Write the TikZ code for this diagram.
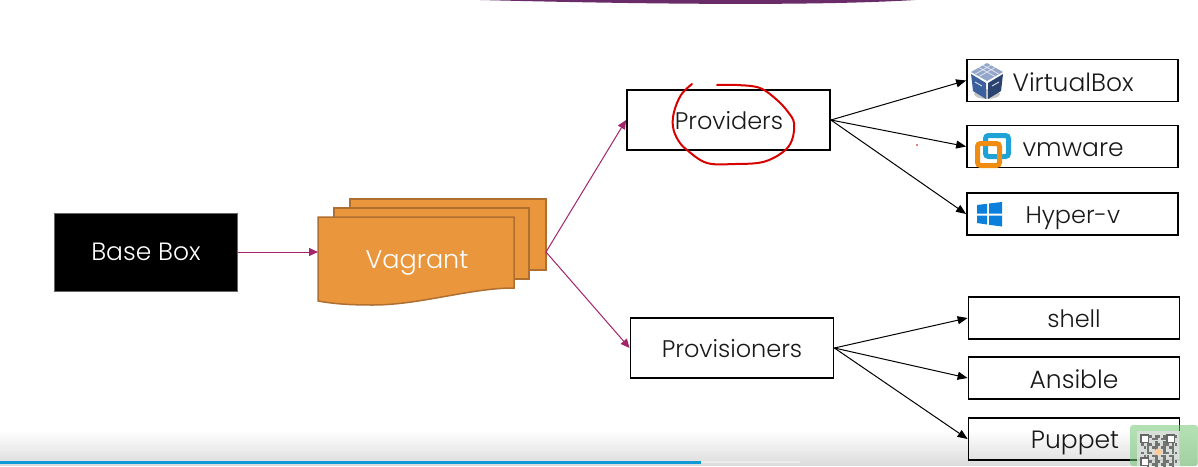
\documentclass[tikz,border=0pt]{standalone}
\usepackage{fontspec}
\setmainfont{Poppins}[UprightFont=* Light]
\usetikzlibrary{arrows.meta,calc,fadings}
\definecolor{vagfill}{HTML}{E9963C}
\definecolor{vagline}{HTML}{AE6F30}
\definecolor{mag}{HTML}{A3246B}
\definecolor{banner}{HTML}{6A2C68}
\definecolor{vbblue}{HTML}{3C5F9E}
\definecolor{vmblue}{HTML}{1FA3D6}
\definecolor{vmorange}{HTML}{F08C10}
\definecolor{winblue}{HTML}{0A7FDC}
\definecolor{barblue}{HTML}{0F9AD6}
\tikzset{
 x=1pt,y=-1pt,
 box/.style={draw=black,line width=1.8pt,fill=white,inner sep=0pt},
 blackarrow/.style={draw=black,line width=1pt,-{Triangle[length=10pt,width=8pt]}},
 magarrow/.style={draw=mag,line width=1pt,-{Triangle[length=9pt,width=8pt]}},
 lab/.style={font=\fontsize{24}{28}\selectfont,text=black!90},
 labw/.style={font=\fontsize{25}{28}\selectfont,text=black!90},
 sheet/.style={draw=vagline,line width=1.5pt,fill=vagfill},
 ink/.style={draw=red!85!black,line width=2pt,line cap=round,line join=round}
}
\begin{document}
\begin{tikzpicture}
\useasboundingbox (0,0) rectangle (1198,466);
\fill[white] (0,0) rectangle (1198,466);
% banner
\fill[banner] (480,0) .. controls (600,3) and (800,7) .. (915,0) -- cycle;
% base box
\node[draw=black!60,fill=black,minimum width=183pt,minimum height=78pt,inner sep=0pt,text=white,font=\fontsize{25}{28}\selectfont] (base) at (146,252) {Base Box};
% vagrant sheets
\path[sheet] (350,199) -- (546,199) -- (546,270) -- (350,270) -- cycle;
\path[sheet] (334,208) -- (529,208) -- (529,279) -- (334,279) -- cycle;
\path[sheet] (318,217) -- (514,217) -- (514,288) .. controls (470,288) and (420,305) .. (373,305) .. controls (350,305) and (335,304) .. (318,301) -- cycle;
\node[text=white,font=\fontsize{25.5}{28}\selectfont] (vag) at (417,262.5) {Vagrant};
\coordinate (vagin) at (318,252);
\coordinate (vagout) at (546,252);
% providers
\node[box,minimum width=203pt,minimum height=60pt] (prov) at (728.5,120) {};
\node[lab] at (729,121) {Providers};
\node[box,minimum width=203pt,minimum height=60pt] (provis) at (732,348) {};
\node[lab] at (732,349) {Provisioners};
% right boxes
\node[box,minimum width=211pt,minimum height=42pt] (vb) at (1072.5,80.5) {};
\node[labw,anchor=west] at (1009,82) {VirtualBox};
\node[box,minimum width=211pt,minimum height=42pt] (vm) at (1072.5,146.5) {};
\node[labw,anchor=west] at (1019,149.5) {vmware};
\node[box,minimum width=211pt,minimum height=42pt] (hv) at (1072.5,214) {};
\node[lab,anchor=west] at (1022,218) {Hyper-v};
\node[box,minimum width=211pt,minimum height=42pt] (sh) at (1074,318) {};
\node[lab] at (1074,319) {shell};
\node[box,minimum width=211pt,minimum height=42pt] (an) at (1074,378) {};
\node[labw] at (1074,379) {Ansible};
\node[box,minimum width=211pt,minimum height=42pt] (pu) at (1074,439) {};
\node[labw] at (1075,443) {Puppet};
% connectors
\draw[magarrow] (base.east) -- (vagin);
\draw[magarrow] (vagout) -- (prov.west);
\draw[magarrow] (vagout) -- (provis.west);
\foreach \t in {vb,vm,hv} \draw[blackarrow] (prov.east) -- (\t.west);
\foreach \t in {sh,an,pu} \draw[blackarrow] (provis.east) -- (\t.west);
% virtualbox icon
\begin{scope}[shift={(987,81)}]
\fill[black!22] (0,13) ellipse (13pt and 5pt);
\fill[vbblue!55!white] (0,-18) -- (16,-9) -- (0,0) -- (-16,-9) -- cycle;
\fill[vbblue] (-16,-7) -- (-1,2) -- (-1,18) -- (-14,10) -- cycle;
\fill[vbblue!70!black] (16,-7) -- (1,2) -- (1,18) -- (14,10) -- cycle;
\draw[white!85!vbblue,line width=.7pt] (-8,-13.5) -- (8,-4.5) (8,-13.5) -- (-8,-4.5) (-4,-15.8) -- (12,-6.8) (4,-15.8) -- (-12,-6.8);
\draw[white!80!vbblue,line width=.9pt] (-12,1) -- (-5,5) (5,5) -- (12,1);
\end{scope}
% vmware icon
\draw[vmblue,line width=5pt,rounded corners=3pt] (985.5,135.5) rectangle (1008.5,156.5);
\draw[vmorange,line width=5pt,rounded corners=3pt] (977.5,143.5) rectangle (999.5,165.5);
% windows icon
\fill[winblue] (977,205) -- (987,203.8) -- (987,213.5) -- (977,213.5) -- cycle;
\fill[winblue] (989,203.5) -- (1002,202) -- (1002,213.5) -- (989,213.5) -- cycle;
\fill[winblue] (977,215.5) -- (987,215.5) -- (987,224.5) -- (977,223) -- cycle;
\fill[winblue] (989,215.5) -- (1002,215.5) -- (1002,226.5) -- (989,224.8) -- cycle;
% red ink
\draw[ink] plot[smooth,tension=.6] coordinates {(692,84) (681,95) (674,112) (673,127) (678,140) (687,150) (707,163) (735,164) (763,162) (783,152) (792,140) (794,123) (788,112) (777,100) (760,88) (737,85) (717,85)};
\fill[red!80!black] (917,145) circle (.8pt);
% bottom shade, over the boxes
\fill[black,opacity=.14,path fading=north] (0,430) rectangle (1198,466);
\fill[black!8] (700,461) rectangle (800,463);
\fill[barblue] (0,461) rectangle (701,463.5);
% corner overlay
\fill[green!60!black!55,opacity=.55,rounded corners=3pt] (1130,425) rectangle (1198,466);
\fill[white!88!black,opacity=.85] (1137,431) rectangle (1180,466);
\foreach \i in {0,...,12} \foreach \j in {0,...,11} {
  \pgfmathtruncatemacro{\v}{mod(\i*\i*7+\j*\j*3+\i*\j*5+\i+2*\j,3)}
  \ifnum\v=0 \fill[black!55] ({1141+\i*2.8},{435+\j*2.8}) rectangle +(2.6,2.6);\fi
}
\foreach \a/\b in {1141/435,1167/435,1141/458}
  \draw[black!60,line width=1.2pt,fill=white] (\a,\b) rectangle +(7.5,7.5);
\fill[orange!40!white] (1158,452) circle (3.5pt);
\end{tikzpicture}
\end{document}
